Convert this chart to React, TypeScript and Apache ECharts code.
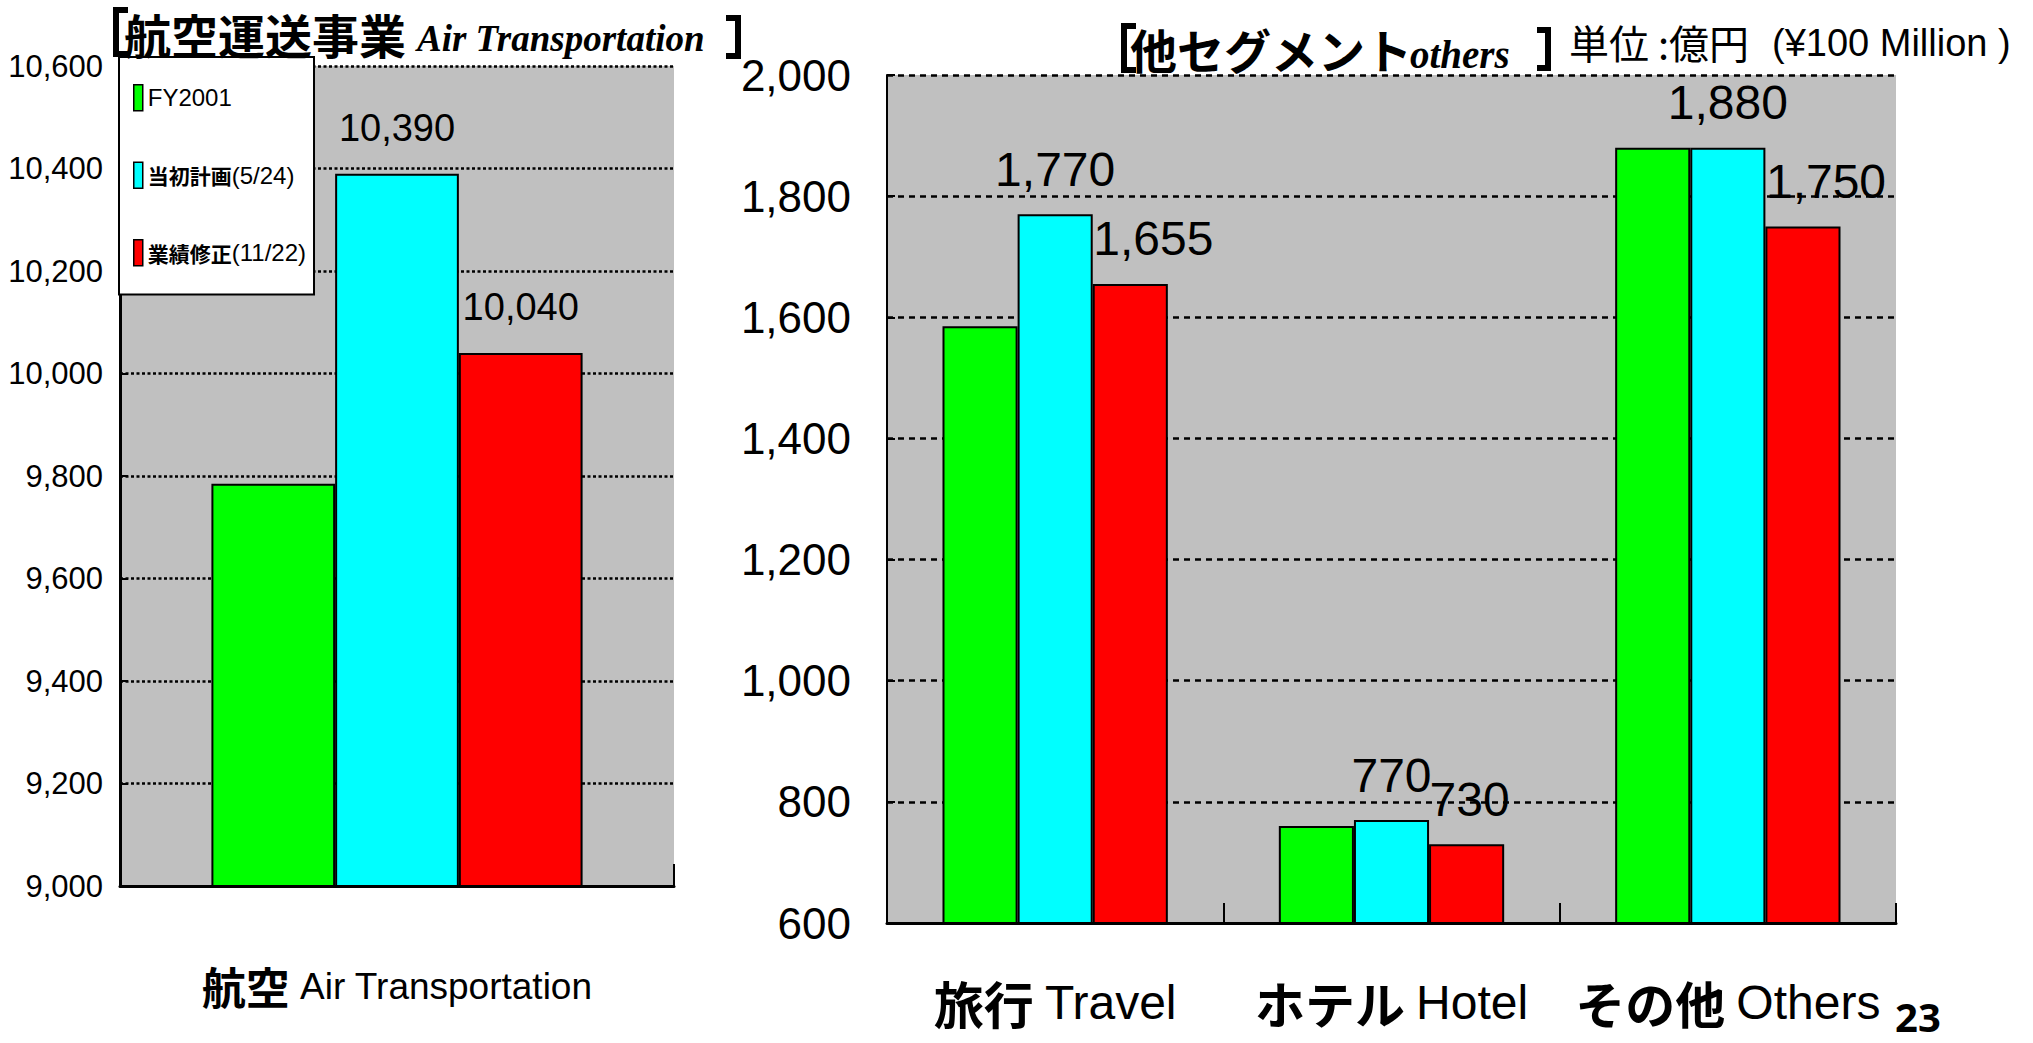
import React, { useEffect, useRef } from 'react';
import * as echarts from 'echarts';

// ---------- data ----------
const seriesNames = ['FY2001', '当初計画(5/24)', '業績修正(11/22)'];
const seriesColors = ['#00FF00', '#00FFFF', '#FF0000'];

const airCategories = ['航空 Air Transportation'];
const airFY2001 = [9785];
const airPlan = [10390];
const airRevised = [10040];
const airMin = 9000;
const airMax = 10600;
const airInterval = 200;

const segCategories = ['旅行 Travel', 'ホテル Hotel', 'その他 Others'];
const segFY2001 = [1585, 760, 1880];
const segPlan = [1770, 770, 1880];
const segRevised = [1655, 730, 1750];
const segMin = 600;
const segMax = 2000;
const segInterval = 200;

const leftTitleJa = '航空運送事業';
const leftTitleEn = 'Air Transportation';
const rightTitleJa = '他セグメント';
const rightTitleEn = 'others';
const unitTextJa = '単位 :億円';
const unitTextEn = '(¥100 Million )';
const pageNumber = '23';

// ---------- styles ----------
const LATIN = '"Liberation Sans", Arial, sans-serif';
const CJK = '"Noto Sans CJK JP", "Noto Sans CJK SC", sans-serif';
const SERIF = '"Liberation Serif", "DejaVu Serif", serif';

const fmt = (v: number) => Number(v).toLocaleString('en-US');

const splitCat = (v: string) => {
  const i = v.indexOf(' ');
  return `{j|${v.slice(0, i)}} {e|${v.slice(i + 1)}}`;
};

function makeBar(name: string, color: string, data: number[], axisIdx: number, label: any) {
  return {
    type: 'bar',
    name,
    xAxisIndex: axisIdx,
    yAxisIndex: axisIdx,
    data,
    barGap: '0%',
    barCategoryGap: '33%',
    itemStyle: { color, borderColor: '#000', borderWidth: 2 },
    label,
    emphasis: { disabled: true },
  };
}

const leftLabel = {
  show: true,
  position: 'top',
  distance: 27,
  fontFamily: LATIN,
  fontSize: 38,
  color: '#000',
  formatter: (p: any) => fmt(p.value),
};
const rightLabel = {
  show: true,
  position: 'top',
  distance: 21,
  fontFamily: LATIN,
  fontSize: 48,
  color: '#000',
  formatter: (p: any) => fmt(p.value),
};
const rightRedLabel = { ...rightLabel, align: 'left', offset: [-37, 0] };

const bracket = (pts: number[][]) => ({
  type: 'polyline',
  z: 9,
  shape: { points: pts },
  style: { stroke: '#000', lineWidth: 6, fill: 'none', lineJoin: 'miter', lineCap: 'butt' },
});

export default function App() {
  const ref = useRef<HTMLDivElement>(null);

  useEffect(() => {
    if (!ref.current) return;
    const chart = echarts.init(ref.current, null, { renderer: 'svg' });

    const option: any = {
      animation: false,
      backgroundColor: '#ffffff',
      textStyle: { fontFamily: LATIN, color: '#000' },
      grid: [
        {
          left: 120, top: 66, width: 554, height: 820,
          show: true, backgroundColor: '#C0C0C0', borderWidth: 0,
          containLabel: false, outerBoundsMode: 'none',
        },
        {
          left: 887, top: 75, width: 1009, height: 848,
          show: true, backgroundColor: '#C0C0C0', borderWidth: 0,
          containLabel: false, outerBoundsMode: 'none',
        },
      ],
      xAxis: [
        {
          type: 'category',
          gridIndex: 0,
          data: airCategories,
          boundaryGap: true,
          axisLine: { show: true, lineStyle: { color: '#000', width: 3 } },
          axisTick: { show: true, inside: true, length: 22, alignWithLabel: false, lineStyle: { color: '#000', width: 2 } },
          splitLine: { show: false },
          axisLabel: {
            show: true,
            interval: 0,
            margin: 72,
            fontSize: 36,
            color: '#000',
            formatter: splitCat,
            rich: {
              j: { fontFamily: CJK, fontWeight: 'bold', fontSize: 44, lineHeight: 56, color: '#000' },
              e: { fontFamily: LATIN, fontSize: 37, lineHeight: 56, color: '#000' },
            },
          },
        },
        {
          type: 'category',
          gridIndex: 1,
          data: segCategories,
          boundaryGap: true,
          axisLine: { show: true, lineStyle: { color: '#000', width: 3 } },
          axisTick: { show: true, inside: true, length: 20, alignWithLabel: false, lineStyle: { color: '#000', width: 2 } },
          splitLine: { show: false },
          axisLabel: {
            show: true,
            interval: 0,
            margin: 48,
            fontSize: 40,
            color: '#000',
            formatter: splitCat,
            rich: {
              j: { fontFamily: CJK, fontWeight: 'bold', fontSize: 50, lineHeight: 62, color: '#000' },
              e: { fontFamily: LATIN, fontSize: 48, lineHeight: 62, color: '#000' },
            },
          },
        },
      ],
      yAxis: [
        {
          type: 'value',
          gridIndex: 0,
          min: airMin,
          max: airMax,
          interval: airInterval,
          axisLine: { show: true, lineStyle: { color: '#000', width: 3 } },
          axisTick: { show: true, inside: true, length: 8, lineStyle: { color: '#000', width: 2 } },
          splitLine: { show: true, lineStyle: { color: '#000', width: 2.5, type: [3, 2.5] } },
          axisLabel: { show: true, margin: 17, fontFamily: LATIN, fontSize: 31, color: '#000', formatter: fmt },
        },
        {
          type: 'value',
          gridIndex: 1,
          min: segMin,
          max: segMax,
          interval: segInterval,
          axisLine: { show: true, lineStyle: { color: '#000', width: 2 } },
          axisTick: { show: true, inside: true, length: 8, lineStyle: { color: '#000', width: 2 } },
          splitLine: { show: true, lineStyle: { color: '#000', width: 2.5, type: [6, 5] } },
          axisLabel: { show: true, margin: 36, fontFamily: LATIN, fontSize: 44, color: '#000', formatter: fmt },
        },
      ],
      legend: {
        show: true,
        orient: 'vertical',
        left: 119,
        top: 57,
        padding: [27, 8, 28, 14],
        itemGap: 50,
        itemWidth: 9,
        itemHeight: 26,
        itemTextGap: 11,
        icon: 'rect',
        selectedMode: false,
        backgroundColor: '#ffffff',
        borderColor: '#000',
        borderWidth: 2,
        borderRadius: 0,
        itemStyle: { borderColor: '#000', borderWidth: 1.5 },
        data: seriesNames,
        formatter: (name: string) => {
          const i = name.indexOf('(');
          if (i < 0) return `{n|${name}}`;
          return `{j|${name.slice(0, i)}}{n|${name.slice(i)}}`;
        },
        textStyle: {
          color: '#000',
          fontFamily: LATIN,
          fontSize: 24,
          rich: {
            j: { fontFamily: CJK, fontWeight: 'bold', fontSize: 21, lineHeight: 30, color: '#000' },
            n: { fontFamily: LATIN, fontSize: 24, lineHeight: 30, color: '#000' },
          },
        },
      },
      series: [
        makeBar(seriesNames[0], seriesColors[0], airFY2001, 0, { show: false }),
        makeBar(seriesNames[1], seriesColors[1], airPlan, 0, leftLabel),
        makeBar(seriesNames[2], seriesColors[2], airRevised, 0, leftLabel),
        makeBar(seriesNames[0], seriesColors[0], segFY2001, 1, { show: false }),
        makeBar(seriesNames[1], seriesColors[1], segPlan, 1, rightLabel),
        makeBar(seriesNames[2], seriesColors[2], segRevised, 1, rightRedLabel),
      ],
      graphic: [
        // left title
        bracket([[128, 10], [116, 10], [116, 54], [128, 54]]),
        {
          type: 'text', x: 124, y: 33, z: 11,
          style: { text: leftTitleJa, fill: '#000', fontFamily: CJK, fontWeight: 'bold', fontSize: 47, lineHeight: 50, align: 'left', verticalAlign: 'middle' },
        },
        {
          type: 'text', x: 417, y: 38, z: 11,
          style: { text: leftTitleEn, fill: '#000', fontFamily: SERIF, fontWeight: 'bold', fontStyle: 'italic', fontSize: 37, lineHeight: 42, align: 'left', verticalAlign: 'middle' },
        },
        bracket([[726, 18], [738, 18], [738, 56], [726, 56]]),
        // right title
        bracket([[1136, 26], [1124, 26], [1124, 70], [1136, 70]]),
        {
          type: 'text', x: 1130, y: 48, z: 11,
          style: { text: rightTitleJa, fill: '#000', fontFamily: CJK, fontWeight: 'bold', fontSize: 47, lineHeight: 50, align: 'left', verticalAlign: 'middle' },
        },
        {
          type: 'text', x: 1410, y: 54, z: 11,
          style: { text: rightTitleEn, fill: '#000', fontFamily: SERIF, fontWeight: 'bold', fontStyle: 'italic', fontSize: 39, lineHeight: 42, align: 'left', verticalAlign: 'middle' },
        },
        bracket([[1537, 30], [1548, 30], [1548, 68], [1537, 68]]),
        {
          type: 'text', x: 1569, y: 42, z: 11,
          style: { text: unitTextJa, fill: '#000', fontFamily: CJK, fontSize: 40, lineHeight: 44, align: 'left', verticalAlign: 'middle' },
        },
        {
          type: 'text', x: 1772, y: 43, z: 11,
          style: { text: unitTextEn, fill: '#000', fontFamily: LATIN, fontSize: 38, lineHeight: 42, align: 'left', verticalAlign: 'middle' },
        },
        // page number
        {
          type: 'text', x: 1895, y: 1016, z: 11,
          style: { text: pageNumber, fill: '#000', fontFamily: '"Noto Sans", "DejaVu Sans", sans-serif', fontWeight: 'bold', fontSize: 40, lineHeight: 36, align: 'left', verticalAlign: 'middle' },
        },
      ],
    };

    chart.setOption(option);
    return () => chart.dispose();
  }, []);

  return (
    <div
      ref={ref}
      style={{ position: 'absolute', left: 0, top: 0, width: 2033, height: 1043, background: '#fff' }}
    />
  );
}
